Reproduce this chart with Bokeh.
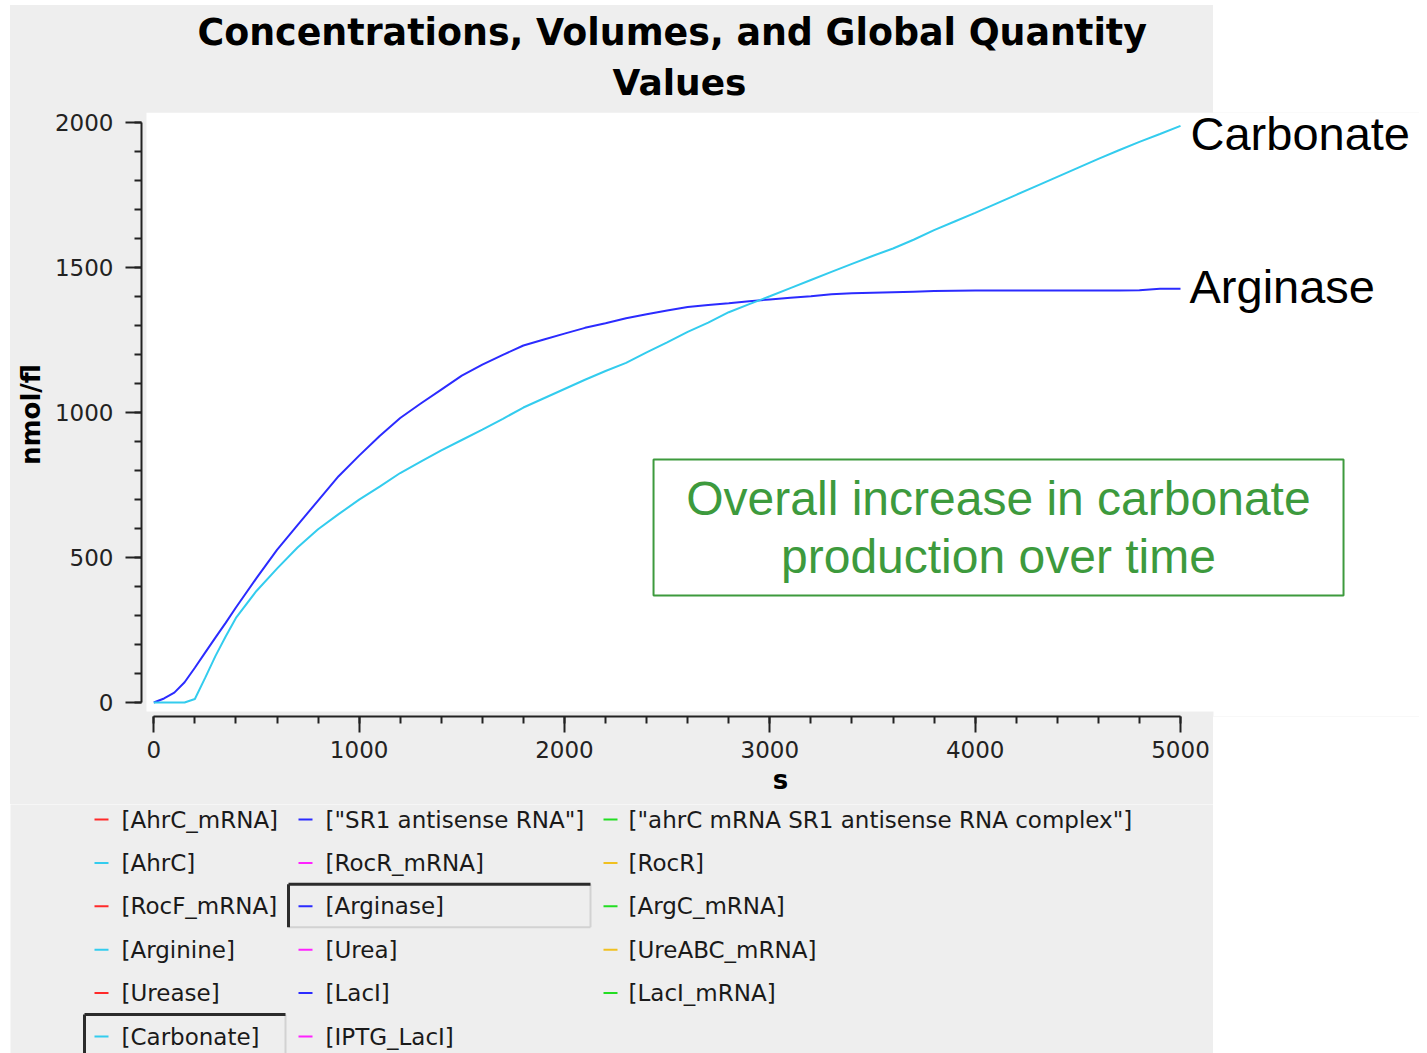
from bokeh.plotting import figure
from bokeh.models import Range1d, SingleIntervalTicker, BoxAnnotation, Label, Title
from bokeh.layouts import column, row
from bokeh.embed import file_html
from bokeh.resources import INLINE
from bokeh.core.properties import value

# ---------------- data ----------------
time_s = [0, 50, 100, 150, 200, 250, 300, 350, 400, 500, 600, 700, 800, 900,
          1000, 1100, 1200, 1300, 1400, 1500, 1600, 1700, 1800, 1900,
          2000, 2100, 2200, 2300, 2400, 2500, 2600, 2700, 2800, 2900,
          3000, 3100, 3200, 3300, 3400, 3500, 3600, 3700, 3800, 3900,
          4000, 4100, 4200, 4300, 4400, 4500, 4600, 4700, 4800, 4900, 5000]

arginase = [0, 14, 34, 70, 120, 172, 224, 275, 328, 429, 527, 612, 697, 781,
            852, 920, 982, 1032, 1080, 1128, 1166, 1200, 1232, 1253,
            1273, 1293, 1309, 1326, 1340, 1353, 1365, 1372, 1378, 1385,
            1391, 1397, 1402, 1409, 1412, 1414, 1416, 1418, 1420, 1421,
            1422, 1422, 1422, 1422, 1422, 1422, 1422, 1422, 1423, 1428, 1428]

carbonate = [0, 0, 0, 0, 12, 85, 160, 228, 292, 385, 462, 535, 598, 650,
             700, 745, 792, 831, 870, 906, 942, 979, 1018, 1050,
             1082, 1114, 1144, 1172, 1208, 1243, 1279, 1311, 1347, 1375,
             1402, 1430, 1458, 1486, 1514, 1541, 1567, 1597, 1630, 1660,
             1690, 1721, 1752, 1783, 1814, 1845, 1876, 1906, 1935, 1962, 1990]

legend_names = ['[AhrC_mRNA]', '["SR1 antisense RNA"]', '["ahrC mRNA SR1 antisense RNA complex"]',
                '[AhrC]', '[RocR_mRNA]', '[RocR]',
                '[RocF_mRNA]', '[Arginase]', '[ArgC_mRNA]',
                '[Arginine]', '[Urea]', '[UreABC_mRNA]',
                '[Urease]', '[LacI]', '[LacI_mRNA]',
                '[Carbonate]', '[IPTG_LacI]']
palette = ["#ff2a2a", "#2b2bff", "#22dd22", "#33ccee", "#ff22ff", "#f0c020"]
legend_colors = [palette[i % 6] for i in range(len(legend_names))]
shown_series = ['[Arginase]', '[Carbonate]']

title_lines = ["Concentrations, Volumes, and Global Quantity", "Values"]
x_label = "s"
y_label = "nmol/fl"
note_lines = ["Overall increase in carbonate", "production over time"]
end_labels = ["Arginase", "Carbonate"]

BG = "#eeeeee"
BLUE = "#2b2bff"
CYAN = "#33ccee"
GREEN = "#3d9a3d"

# ---------------- main plot ----------------
p = figure(width=1409, height=799, output_backend="svg", toolbar_location=None,
           x_range=Range1d(-59.9, 6163.9), y_range=Range1d(-48.3, 2036.2),
           min_border_left=131, min_border_right=0, min_border_top=107,
           min_border_bottom=88)
p.border_fill_alpha = 0
p.styles = {"background": "linear-gradient(to right, %s 1203px, #ffffff 1203px)" % BG}
p.background_fill_color = BG
p.outline_line_color = None
p.grid.visible = False

# two-line title (second line added first: closest to the frame)
p.add_layout(Title(text=title_lines[1], align="left", offset=471, standoff=19,
                   text_font="DejaVu Sans", text_font_style="bold",
                   text_font_size="36px", text_color="#000000"), "above")
p.add_layout(Title(text=title_lines[0], align="left", offset=56, standoff=-6,
                   text_font="DejaVu Sans", text_font_style="bold",
                   text_font_size="36.4px", text_color="#000000"), "above")

# white plotting canvas
p.add_layout(BoxAnnotation(left=-35.6, right=6163.9, bottom=-31.1, top=2036.2,
                           fill_color="#ffffff", fill_alpha=1, line_alpha=0, level="underlay"))
p.add_layout(BoxAnnotation(left=5160.7, right=6163.9, bottom=-48.3, top=2036.2,
                           fill_color="#ffffff", fill_alpha=1, line_alpha=0, level="underlay"))

xa = p.xaxis[0]
ya = p.yaxis[0]
xa.ticker = SingleIntervalTicker(interval=1000, num_minor_ticks=5)
ya.ticker = SingleIntervalTicker(interval=500, num_minor_ticks=5)
xa.bounds = (0, 5000)
ya.bounds = (0, 2000)
xa.axis_label = x_label
ya.axis_label = y_label
for ax in (xa, ya):
    ax.axis_line_color = "#222222"
    ax.axis_line_width = 2
    ax.major_tick_line_color = "#222222"
    ax.minor_tick_line_color = "#222222"
    ax.major_tick_line_width = 2
    ax.minor_tick_line_width = 2
    ax.major_tick_in = 0
    ax.minor_tick_in = 0
    ax.major_tick_out = 16
    ax.minor_tick_out = 7
    ax.major_label_text_font = "DejaVu Sans"
    ax.major_label_text_font_size = "23px"
    ax.major_label_text_color = "#222222"
    ax.axis_label_text_font = "DejaVu Sans"
    ax.axis_label_text_font_style = "bold"
    ax.axis_label_text_font_size = "26px"
    ax.axis_label_text_color = "#000000"
xa.major_label_standoff = 8
xa.axis_label_standoff = 4
ya.major_label_standoff = 12
ya.axis_label_standoff = 6

p.line(time_s, arginase, line_color=BLUE, line_width=2)
p.line(time_s, carbonate, line_color=CYAN, line_width=2)

p.add_layout(Label(x=time_s[-1], y=arginase[-1], text=end_labels[0], x_offset=9, y_offset=2,
                   text_baseline="middle", text_font="Liberation Sans",
                   text_font_size="47px", text_color="#000000"))
p.add_layout(Label(x=time_s[-1], y=carbonate[-1], text=end_labels[1], x_offset=10, y_offset=-8,
                   text_baseline="middle", text_font="Liberation Sans",
                   text_font_size="47px", text_color="#000000"))

# note box
p.add_layout(BoxAnnotation(left=2433.7, right=5793.9, bottom=369.3, top=838.7,
                           fill_alpha=0, line_color=GREEN, line_alpha=1, line_width=2))
for txt, yv in zip(note_lines, [704.1, 503.9]):
    p.add_layout(Label(x=4113.4, y=yv, text=txt, text_align="center",
                       text_baseline="middle", text_font="Liberation Sans",
                       text_font_size="48px", text_color=GREEN))

# ---------------- legend panel ----------------
LH = 249
pl = figure(width=1203, height=LH, output_backend="svg", toolbar_location=None,
            x_range=Range1d(0, 1203), y_range=Range1d(LH, 0),
            min_border=0, min_border_left=0, min_border_right=0,
            min_border_top=0, min_border_bottom=0,
            x_axis_location=None, y_axis_location=None)
pl.grid.visible = False
pl.outline_line_color = None
pl.background_fill_color = BG
pl.border_fill_color = BG

col_glyph = [84, 288, 593]
col_text = [111, 315, 618]
col_right = [275, 580, 1190]
row_y0, row_h = 15, 43.4

gx0, gx1, gy, tx, ty = [], [], [], [], []
for i, name in enumerate(legend_names):
    r, c = divmod(i, 3)
    y = row_y0 + r * row_h
    gx0.append(col_glyph[c]); gx1.append(col_glyph[c] + 14); gy.append(y)
    tx.append(col_text[c]); ty.append(y)

pl.segment(x0=gx0, y0=gy, x1=gx1, y1=gy, line_color=legend_colors, line_width=2)
pl.text(x=tx, y=ty, text=legend_names, text_baseline="middle",
        text_font=value("DejaVu Sans"), text_font_size="23px", text_color="#1a1a1a")

# sunken frames around the checked (displayed) series
dk_x0, dk_y0, dk_x1, dk_y1 = [], [], [], []
lt_x0, lt_y0, lt_x1, lt_y1 = [], [], [], []
for name in shown_series:
    i = legend_names.index(name)
    r, c = divmod(i, 3)
    y = row_y0 + r * row_h
    L, R, T, B = col_glyph[c] - 10, col_right[c], y - 22, y + 21
    dk_x0 += [L, L]; dk_y0 += [T, T]; dk_x1 += [R, L]; dk_y1 += [T, B]
    lt_x0 += [L, R]; lt_y0 += [B, T]; lt_x1 += [R, R]; lt_y1 += [B, B]
pl.segment(x0=lt_x0, y0=lt_y0, x1=lt_x1, y1=lt_y1, line_color="#d2d2d2", line_width=2)
pl.segment(x0=dk_x0, y0=dk_y0, x1=dk_x1, y1=dk_y1, line_color="#2b2b2b", line_width=3)

# the legend panel sits in its own row so that its frame is not aligned to the plot's frame
layout = column(p, row(pl, spacing=0), spacing=0, margin=(5, 0, 0, 10))
open("out.html", "w").write(file_html(layout, INLINE))
